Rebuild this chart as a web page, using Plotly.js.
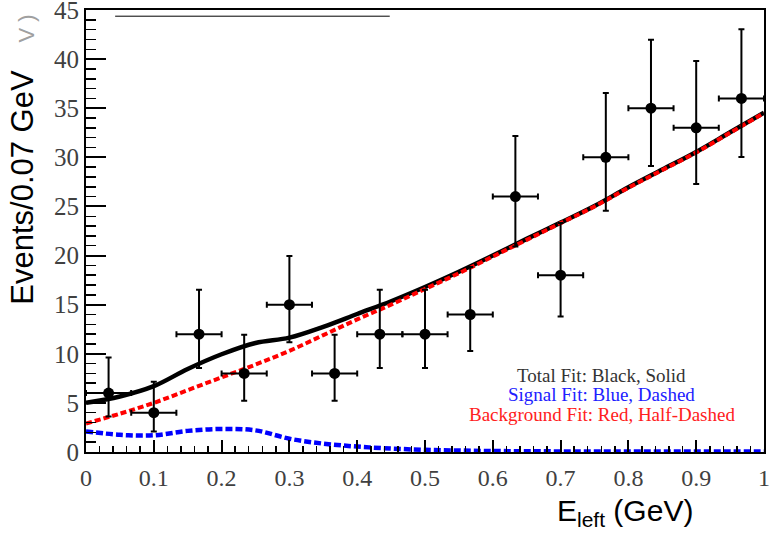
<!DOCTYPE html>
<html>
<head>
<meta charset="utf-8">
<script src="https://cdn.plot.ly/plotly-3.0.1.min.js"></script>
<style>html,body{margin:0;padding:0;background:#fff;}#chart{width:770px;height:533px;}</style>
</head>
<body>
<div id="chart"></div>
<script>
// Binned data (15 bins over 0..1 GeV)
const binCenters = [0.0333, 0.1, 0.1667, 0.2333, 0.3, 0.3667, 0.4333, 0.5, 0.5667, 0.6333, 0.7, 0.7667, 0.8333, 0.9, 0.9667];
const binHalfWidth = [0.0333, 0.0333, 0.0333, 0.0333, 0.0333, 0.0333, 0.0333, 0.0333, 0.0333, 0.0333, 0.0333, 0.0333, 0.0333, 0.0333, 0.0333];
const counts = [6, 4, 12, 8, 15, 8, 12, 12, 14, 26, 18, 30, 35, 33, 36];
const errHigh = [3.62, 3.16, 4.53, 3.94, 4.95, 3.94, 4.53, 4.53, 4.83, 6.17, 5.32, 6.55, 6.97, 6.80, 7.05];
const errLow = [2.38, 1.91, 3.46, 2.77, 3.83, 2.77, 3.46, 3.46, 3.71, 5.08, 4.20, 5.45, 5.88, 5.71, 5.97];

// Fit curves
const fitX = [0, 0.05, 0.1, 0.15, 0.2, 0.25, 0.3, 0.35, 0.4, 0.45, 0.5, 0.55, 0.6, 0.65, 0.7, 0.75, 0.8, 0.85, 0.9, 0.95, 1.0];
const totalFit = [5.0, 5.65, 6.7, 8.45, 9.95, 11.1, 11.65, 12.75, 14.05, 15.35, 16.8, 18.35, 20.0, 21.7, 23.35, 25.05, 26.95, 28.75, 30.55, 32.55, 34.55];
const signalFit = [2.1, 1.75, 1.7, 2.15, 2.35, 2.2, 1.35, 0.85, 0.55, 0.35, 0.22, 0.15, 0.1, 0.08, 0.06, 0.05, 0.05, 0.05, 0.05, 0.05, 0.05];
const backgroundFit = [2.9, 3.9, 5.0, 6.3, 7.6, 8.9, 10.3, 11.9, 13.5, 15.0, 16.6, 18.2, 19.9, 21.6, 23.3, 25.0, 26.9, 28.7, 30.5, 32.5, 34.5];

const legendLines = ["Total Fit: Black, Solid", "Signal Fit: Blue, Dashed", "Background Fit: Red, Half-Dashed"];
const xTitle = "E<sub>left</sub> (GeV)";
const yTitle = "Events/0.07 GeV";

const traces = [
  {x: fitX, y: totalFit, mode: 'lines', line: {color: '#000', width: 4.5, shape: 'spline'}, hoverinfo: 'skip'},
  {x: fitX, y: backgroundFit, mode: 'lines', line: {color: '#ff0000', width: 4, dash: '6px,3px', shape: 'spline'}, hoverinfo: 'skip'},
  {x: fitX, y: signalFit, mode: 'lines', line: {color: '#0000ff', width: 4.5, dash: '7px,3px', shape: 'spline'}, hoverinfo: 'skip'},
  {x: binCenters, y: counts, mode: 'markers', marker: {color: '#000', size: 11, symbol: 'circle'},
   error_y: {type: 'data', symmetric: false, array: errHigh, arrayminus: errLow, color: '#000', thickness: 2, width: 3},
   error_x: {type: 'data', array: binHalfWidth, color: '#000', thickness: 2, width: 3}}
];

const layout = {
  width: 770, height: 533,
  margin: {l: 86, r: 6, t: 10, b: 81},
  paper_bgcolor: '#fff', plot_bgcolor: '#fff',
  font: {family: 'Liberation Serif', size: 22, color: '#404040'},
  showlegend: false,
  xaxis: {
    range: [0, 1], dtick: 0.1, tick0: 0,
    ticks: 'inside', ticklen: 12, tickwidth: 2, tickcolor: '#000',
    minor: {dtick: 0.02, ticks: 'inside', ticklen: 6, tickwidth: 1.5, tickcolor: '#000'},
    showline: true, linecolor: '#000', linewidth: 2, mirror: true,
    showgrid: false, zeroline: false, ticklabeloverflow: 'allow',
    tickfont: {family: 'Liberation Serif', size: 24, color: '#404040'}, ticklabelstandoff: 3
  },
  yaxis: {
    range: [0, 45], dtick: 5, tick0: 0,
    ticks: 'inside', ticklen: 20, tickwidth: 2, tickcolor: '#000',
    minor: {dtick: 1, ticks: 'inside', ticklen: 10, tickwidth: 1.5, tickcolor: '#000'},
    showline: true, linecolor: '#000', linewidth: 2, mirror: true,
    showgrid: false, zeroline: false, ticklabeloverflow: 'allow',
    tickfont: {family: 'Liberation Serif', size: 25, color: '#404040'}, ticklabelstandoff: 0
  },
  shapes: [
    {type: 'line', xref: 'paper', yref: 'paper', x0: 0.043, x1: 0.448, y0: 0.986, y1: 0.986, line: {color: '#000', width: 1}}
  ],
  annotations: [
    {text: yTitle, xref: 'paper', yref: 'paper', x: -0.093, y: 0.6, textangle: -90, showarrow: false,
     xanchor: 'center', yanchor: 'middle', font: {family: 'Liberation Sans', size: 31, color: '#000'}},
    {text: 'V )', xref: 'paper', yref: 'paper', x: -0.088, y: 0.995, textangle: -90, showarrow: false,
     xanchor: 'center', yanchor: 'top', font: {family: 'Liberation Sans', size: 22, color: '#a0a0a0'}},
    {text: xTitle, xref: 'paper', yref: 'paper', x: 0.795, y: -0.136, showarrow: false,
     xanchor: 'center', yanchor: 'middle', font: {family: 'Liberation Sans', size: 30, color: '#000'}},
    {text: legendLines[0], xref: 'paper', yref: 'paper', x: 0.761, y: 0.174, showarrow: false,
     xanchor: 'center', yanchor: 'middle', font: {family: 'Liberation Serif', size: 19, color: '#333'}},
    {text: legendLines[1], xref: 'paper', yref: 'paper', x: 0.761, y: 0.129, showarrow: false,
     xanchor: 'center', yanchor: 'middle', font: {family: 'Liberation Serif', size: 19, color: '#2020ff'}},
    {text: legendLines[2], xref: 'paper', yref: 'paper', x: 0.761, y: 0.084, showarrow: false,
     xanchor: 'center', yanchor: 'middle', font: {family: 'Liberation Serif', size: 19, color: '#ff2020'}}
  ]
};

Plotly.newPlot('chart', traces, layout, {displayModeBar: false, staticPlot: true});
</script>
</body>
</html>
